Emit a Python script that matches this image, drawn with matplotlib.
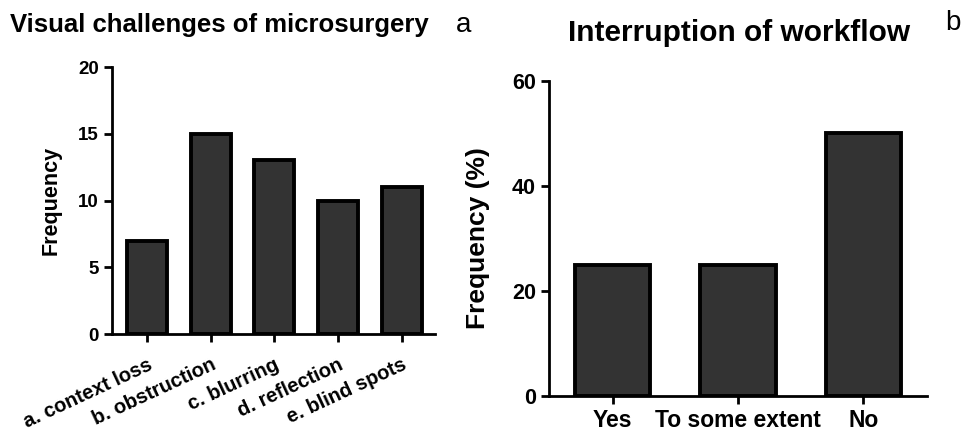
import matplotlib
matplotlib.use("Agg")
import matplotlib.pyplot as plt

plt.rcParams["font.family"] = ["Liberation Sans", "DejaVu Sans"]

# ── Data ─────────────────────────────────────────────────────────────────────
challenges      = ["a. context loss", "b. obstruction", "c. blurring",
                   "d. reflection", "e. blind spots"]
challenge_freq  = [7, 15, 13, 10, 11]

workflow_labels = ["Yes", "To some extent", "No"]
workflow_pct    = [25, 25, 50]

BAR_FILL = "#333333"


def style_axes(ax):
    for side in ("top", "right"):
        ax.spines[side].set_visible(False)
    for side in ("left", "bottom"):
        ax.spines[side].set_linewidth(2.0)
    ax.tick_params(axis="both", direction="out", length=6, width=2.0)


fig = plt.figure(figsize=(9.67, 4.33), dpi=100)

# ── Panel a ──────────────────────────────────────────────────────────────────
ax1 = fig.add_axes([0.1158, 0.2286, 0.334, 0.6166])
ax1.bar(range(len(challenges)), challenge_freq, width=0.63, color=BAR_FILL,
        edgecolor="black", linewidth=2.8)
ax1.set_xlim(-0.55, 4.52)
ax1.set_ylim(0, 20)
ax1.set_yticks([0, 5, 10, 15, 20])
ax1.set_xticks(range(len(challenges)))
ax1.set_xticklabels(challenges, rotation=25, ha="right", rotation_mode="anchor",
                    fontsize=14.5, fontweight="bold")
style_axes(ax1)
ax1.tick_params(axis="x", pad=9)
for lbl in ax1.get_yticklabels():
    lbl.set_fontsize(13.5)
    lbl.set_fontweight("bold")
ax1.set_ylabel("Frequency", fontsize=15.5, fontweight="bold")
ax1.yaxis.set_label_coords(-0.155, 0.5)
fig.text(0.010, 0.942, "Visual challenges of microsurgery", fontsize=18.5,
         fontweight="bold", va="center", ha="left")
fig.text(0.471, 0.942, "a", fontsize=20, va="center", ha="left")

# ── Panel b ──────────────────────────────────────────────────────────────────
ax2 = fig.add_axes([0.5677, 0.0855, 0.391, 0.7275])
ax2.bar(range(len(workflow_labels)), workflow_pct, width=0.6, color=BAR_FILL,
        edgecolor="black", linewidth=2.8)
ax2.set_xlim(-0.51, 2.51)
ax2.set_ylim(0, 60)
ax2.set_yticks([0, 20, 40, 60])
ax2.set_xticks(range(len(workflow_labels)))
ax2.set_xticklabels(workflow_labels, fontsize=16.5, fontweight="bold")
style_axes(ax2)
for lbl in ax2.get_yticklabels():
    lbl.set_fontsize(15.5)
    lbl.set_fontweight("bold")
ax2.set_ylabel("Frequency (%)", fontsize=19, fontweight="bold")
ax2.yaxis.set_label_coords(-0.156, 0.5)
fig.text(0.764, 0.923, "Interruption of workflow", fontsize=21.5,
         fontweight="bold", va="center", ha="center")
fig.text(0.977, 0.946, "b", fontsize=20, va="center", ha="left")

fig.savefig("out.png", dpi=100)
